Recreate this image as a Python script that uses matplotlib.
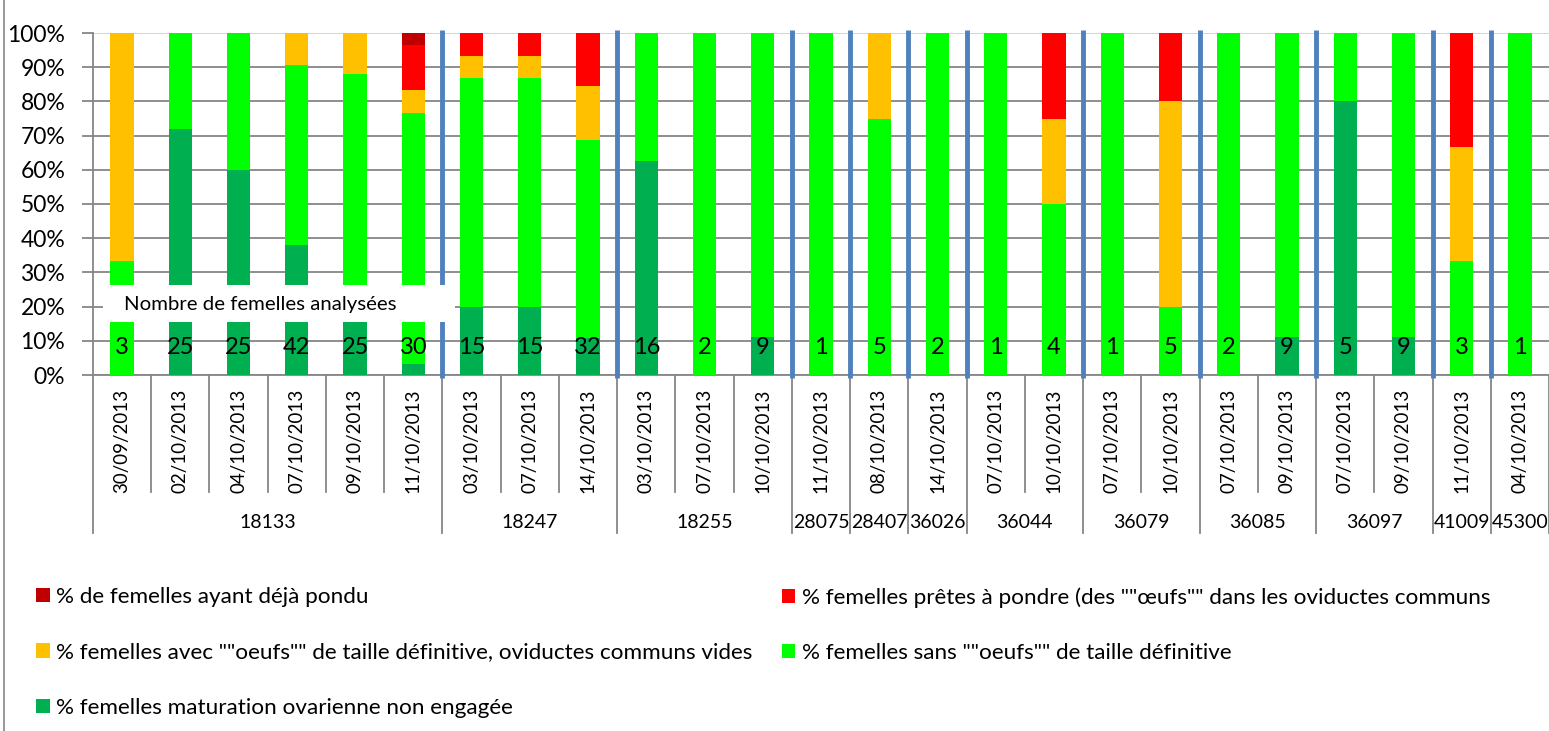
import matplotlib
matplotlib.use('Agg')
import matplotlib.pyplot as plt
import numpy as np
from matplotlib.transforms import blended_transform_factory
from matplotlib.patches import Rectangle
from matplotlib.lines import Line2D

plt.rcParams['font.family'] = ['Lato', 'DejaVu Sans']

# ---------------- data ----------------
groups = ['18133', '18247', '18255', '28075', '28407', '36026',
          '36044', '36079', '36085', '36097', '41009', '45300']
group_sizes = [6, 3, 3, 1, 1, 1, 2, 2, 2, 2, 1, 1]
dates = ['30/09/2013', '02/10/2013', '04/10/2013', '07/10/2013', '09/10/2013', '11/10/2013',
         '03/10/2013', '07/10/2013', '14/10/2013',
         '03/10/2013', '07/10/2013', '10/10/2013',
         '11/10/2013', '08/10/2013', '14/10/2013',
         '07/10/2013', '10/10/2013',
         '07/10/2013', '10/10/2013',
         '07/10/2013', '09/10/2013',
         '07/10/2013', '09/10/2013',
         '11/10/2013', '04/10/2013']
n_females = [3, 25, 25, 42, 25, 30, 15, 15, 32, 16, 2, 9, 1, 5, 2, 1, 4, 1, 5, 2, 9, 5, 9, 3, 1]

non_engagee = [0, 72, 60, 38.1, 20, 3.3, 20, 20, 10.9, 62.5, 0, 11.1, 0,
               0, 0, 0, 0, 0, 0, 0, 11.1, 80, 11.1, 0, 0]
sans_oeufs = [33.3, 28, 40, 52.4, 68, 73.3, 66.7, 66.7, 57.8, 37.5, 100, 88.9, 100,
              75, 100, 100, 50, 100, 20, 100, 88.9, 20, 88.9, 33.3, 100]
avec_oeufs = [66.7, 0, 0, 9.5, 12, 6.7, 6.7, 6.7, 15.7, 0, 0, 0, 0,
              25, 0, 0, 25, 0, 60, 0, 0, 0, 0, 33.3, 0]
pretes = [0, 0, 0, 0, 0, 13.3, 6.6, 6.6, 15.6, 0, 0, 0, 0,
          0, 0, 0, 25, 0, 20, 0, 0, 0, 0, 33.4, 0]
deja_pondu = [0, 0, 0, 0, 0, 3.4, 0, 0, 0, 0, 0, 0, 0,
              0, 0, 0, 0, 0, 0, 0, 0, 0, 0, 0, 0]

labels = ['% femelles maturation ovarienne non engagée',
          '% femelles sans ""oeufs"" de taille définitive',
          '% femelles avec ""oeufs"" de taille définitive, oviductes communs vides',
          '% femelles prêtes à pondre (des ""œufs"" dans les oviductes communs',
          '% de femelles ayant déjà pondu']
colors = ['#00B050', '#00FF00', '#FFC000', '#FF0000', '#C00000']
box_text = 'Nombre de femelles analysées'

# ---------------- figure ----------------
W, H = 1549, 731
fig = plt.figure(figsize=(W / 100, H / 100), dpi=100)
ax = fig.add_axes([93 / W, (H - 375) / H, (W - 93) / W, (375 - 33) / H])

n = len(dates)
x = np.arange(n)
series = [non_engagee, sans_oeufs, avec_oeufs, pretes, deja_pondu]
bottom = np.zeros(n)
handles = []
for vals, c, lab in zip(series, colors, labels):
    vals = np.array(vals, dtype=float)
    b = ax.bar(x, vals, width=0.4, bottom=bottom, color=c, label=lab,
               zorder=3, linewidth=0)
    bottom += vals
    handles.append(b)

grid_c = '#868686'
ax.set_xlim(-0.5, n - 0.5)
ax.set_ylim(0, 100)
ax.set_yticks(range(0, 101, 10))
ax.set_yticklabels([f'{v}%' for v in range(0, 101, 10)])
ax.yaxis.grid(True, color=grid_c, linewidth=1.3, zorder=0)
ax.get_ygridlines()[-1].set_color('#d0d0d0')
ax.set_axisbelow(True)
for s in ['top', 'right']:
    ax.spines[s].set_visible(False)
ax.spines['left'].set_color(grid_c)
ax.spines['bottom'].set_color(grid_c)
ax.spines['left'].set_linewidth(1.3)
ax.spines['bottom'].set_linewidth(1.3)
ax.tick_params(axis='y', length=8, color=grid_c, width=1.3, labelsize=16.5, pad=12)
ax.set_xticks(x)
ax.set_xticklabels(dates, rotation=90, fontsize=13.5)
ax.tick_params(axis='x', length=0, pad=10)

# multi-level category axis lines
trans = blended_transform_factory(ax.transData, ax.transAxes)
group_edges = np.concatenate([[0], np.cumsum(group_sizes)])
for k in range(n + 1):
    y_end = -0.462 if k in group_edges else -0.342
    ax.add_line(Line2D([k - 0.5, k - 0.5], [0, y_end], transform=trans,
                       color=grid_c, lw=1.3, clip_on=False))
for g, s, e in zip(groups, group_edges[:-1], group_edges[1:]):
    ax.text((s + e - 1) / 2, -0.43, g, transform=trans, ha='center', va='center',
            fontsize=14)

# blue separators between groups
seps = group_edges[1:-1] - 0.5
vl = ax.vlines(seps, -1, 100.8, color='#4F81BD', lw=3.5, zorder=4)
vl.set_clip_on(False)

# white label box
ax.add_patch(Rectangle((-0.33, 15.5), 6.05, 10.8, facecolor='white',
                       edgecolor='none', zorder=5))
ax.text(0.03, 20.6, box_text, ha='left', va='center', fontsize=14.7, zorder=6)

for xi, nv in zip(x, n_females):
    ax.text(xi, 8, str(nv), ha='center', va='center', fontsize=17, zorder=6)

# legends (two columns, row-wise order)
col1 = [handles[4], handles[2], handles[0]]
col2 = [handles[3], handles[1]]
leg_kw = dict(frameon=False, loc='upper left', borderpad=0, borderaxespad=0,
              handlelength=0.6, handleheight=0.6, handletextpad=0.3,
              labelspacing=1.58, fontsize=16.2)
leg1 = fig.legend(col1, [h.get_label() for h in col1],
                  bbox_to_anchor=(36 / W, 1 - 587 / H), **leg_kw)
leg2 = fig.legend(col2, [h.get_label() for h in col2],
                  bbox_to_anchor=(782 / W, 1 - 587 / H), **leg_kw)

fig.add_artist(Line2D([4 / W, 4 / W], [0, 1], color=grid_c, lw=1.2))

fig.savefig('out.png', dpi=100, facecolor='white')
